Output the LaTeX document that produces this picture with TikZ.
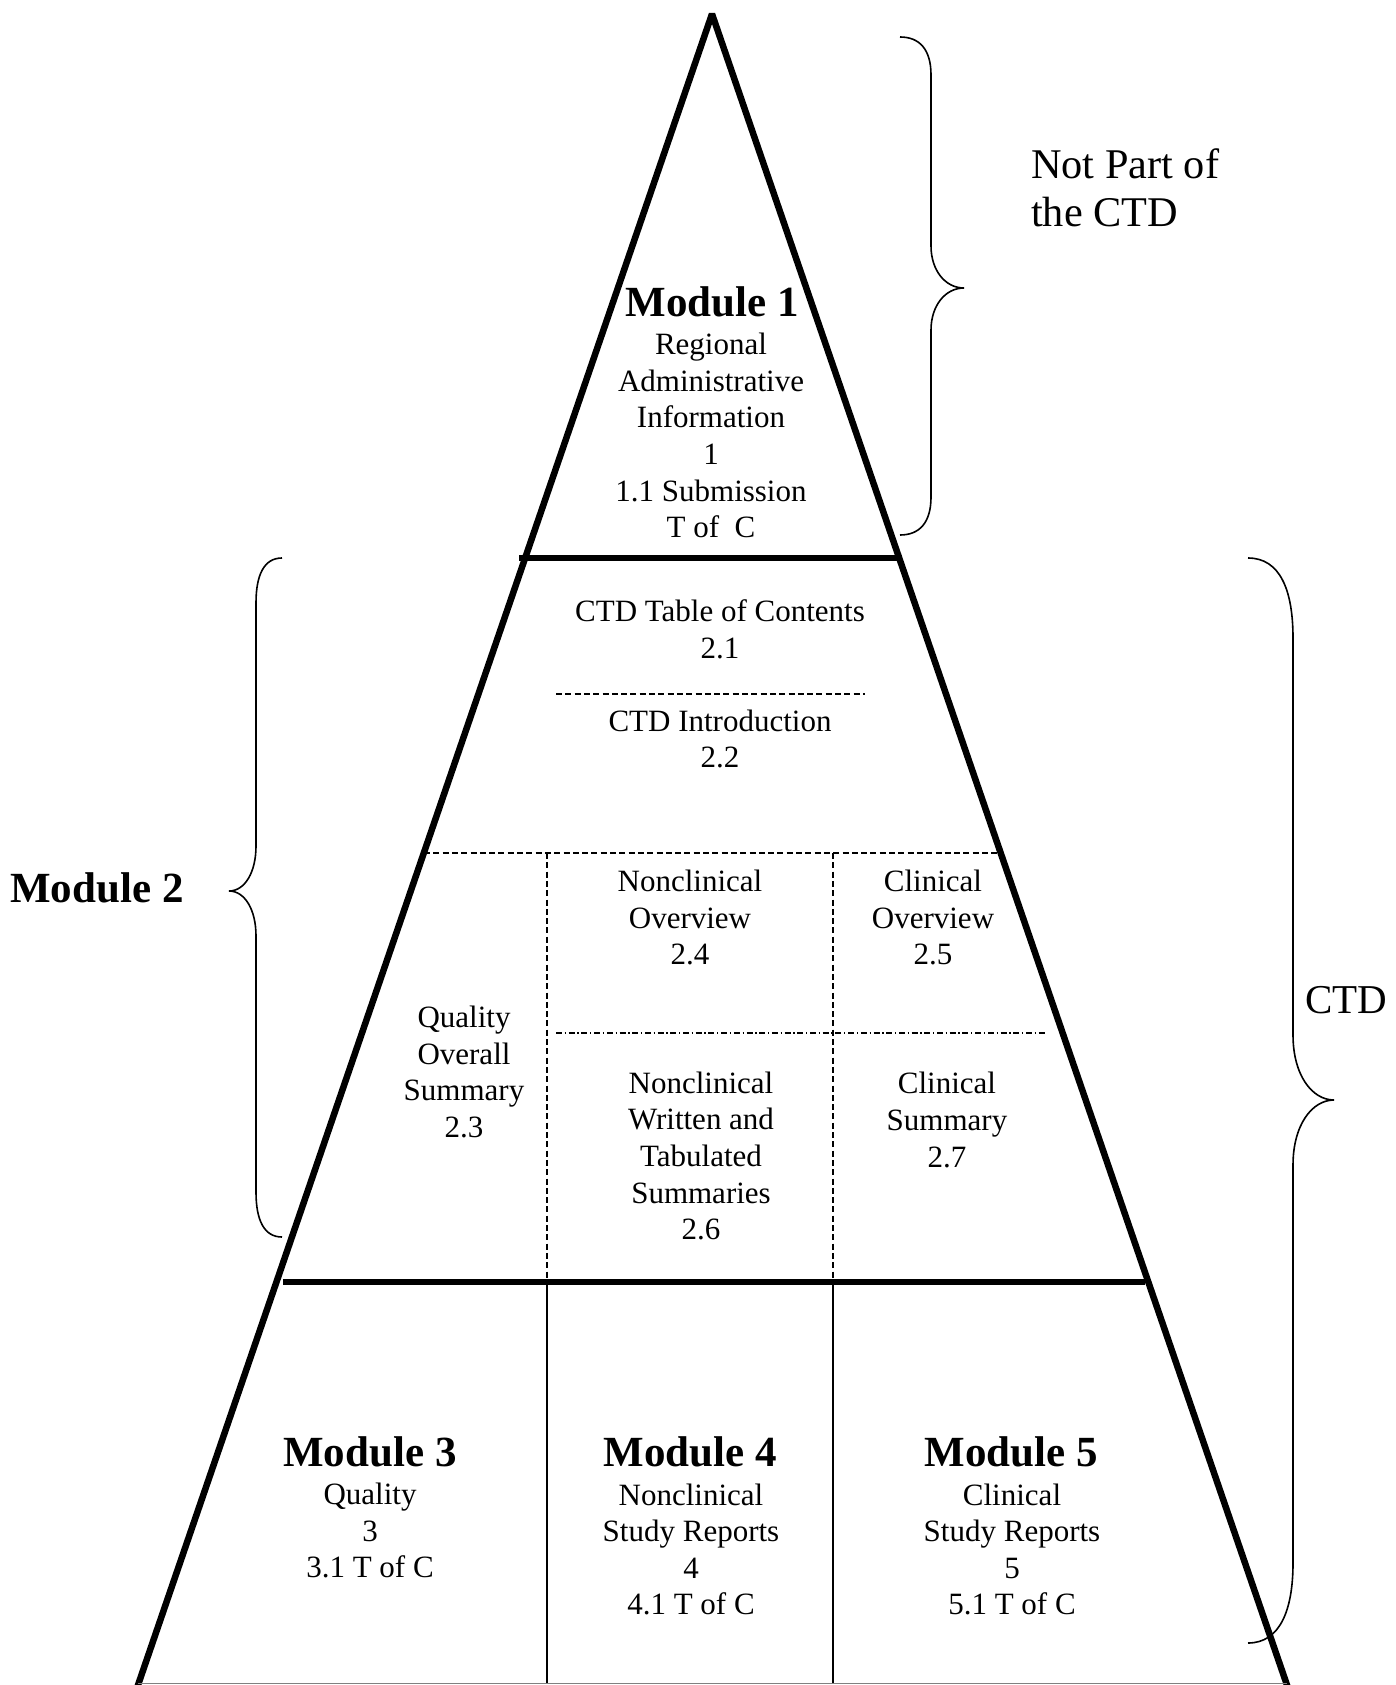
\documentclass[tikz,border=0pt]{standalone}
\usepackage{fontspec}
\setmainfont{Liberation Serif}
\begin{document}
\begin{tikzpicture}[x=1pt,y=-1pt,
  edge/.style={line width=6.5pt},
  thickrule/.style={line width=6.5pt},
  thinrule/.style={line width=1.3pt},
  dsh/.style={line width=1.3pt, dash pattern=on 6pt off 3.3pt},
  dshdot/.style={line width=1.3pt, dash pattern=on 6pt off 2.7pt on 1.3pt off 2.7pt},
  bracestyle/.style={line width=1.6pt},
  txt/.style={font=\fontsize{31}{36.6}\selectfont, align=center, inner sep=0pt},
  ttl/.style={font=\fontsize{43}{48}\selectfont\bfseries, inner sep=0pt},
  big/.style={font=\fontsize{41}{47}\selectfont, inner sep=0pt}]
\useasboundingbox (0,0) rectangle (1396,1685);
\fill[white] (0,0) rectangle (1396,1685);

% pyramid edges
\coordinate (apex) at (712,14);
\coordinate (bl) at (136.3,1690);
\coordinate (br) at (1288.7,1690);
\draw[edge, line join=bevel] (bl) -- (apex) -- (br);

% horizontal rules
\coordinate (r1a) at (519,558); \coordinate (r1b) at (902,558);
\coordinate (r2a) at (283,1282); \coordinate (r2b) at (1145,1282);
\draw[thickrule] (r1a) -- (r1b);
\draw[thickrule] (r2a) -- (r2b);
\coordinate (ga) at (138,1683.5); \coordinate (gb) at (1287,1683.5);
\draw[gray, line width=1.5pt] (ga) -- (gb);

% dashed separators
\coordinate (d1a) at (556,694); \coordinate (d1b) at (865,694);
\draw[dsh] (d1a) -- (d1b);
\coordinate (d2a) at (424,853); \coordinate (d2b) at (1000,853);
\draw[dsh] (d2a) -- (d2b);
\coordinate (v1t) at (547,853); \coordinate (v1m) at (547,1282); \coordinate (v1b) at (547,1683);
\coordinate (v2t) at (833,853); \coordinate (v2m) at (833,1282); \coordinate (v2b) at (833,1683);
\draw[dsh] (v1t) -- (v1m);
\draw[dsh] (v2t) -- (v2m);
\draw[thinrule] (v1m) -- (v1b);
\draw[thinrule] (v2m) -- (v2b);
\coordinate (d3a) at (556,1033); \coordinate (d3b) at (1045,1033);
\draw[dshdot] (d3a) -- (d3b);

% braces
\draw[bracestyle] (900,37) .. controls (920,37) and (931,50) .. (931,75) -- (931,246)
  .. controls (931,270) and (945,288) .. (964,288)
  .. controls (945,288) and (931,306) .. (931,330) -- (931,497)
  .. controls (931,522) and (920,535) .. (900,535);
\draw[bracestyle] (282,558) .. controls (264,558) and (256,575) .. (256,603) -- (256,846)
  .. controls (256,872) and (245,891) .. (229,891)
  .. controls (245,891) and (256,910) .. (256,936) -- (256,1192)
  .. controls (256,1220) and (264,1237) .. (282,1237);
\draw[bracestyle] (1248,558) .. controls (1280,558) and (1293,590) .. (1293,638) -- (1293,1035)
  .. controls (1293,1075) and (1312,1100) .. (1334,1100)
  .. controls (1312,1100) and (1293,1125) .. (1293,1165) -- (1293,1563)
  .. controls (1293,1610) and (1280,1643) .. (1248,1643);

% texts
\node[ttl] (m1title) at (712,302) {Module 1};
\node[txt] (m1body) at (711,435.5) {Regional\\Administrative\\Information\\1\\1.1 Submission\\T of~ C};
\node[txt] (toc) at (720,629.5) {CTD Table of Contents\\2.1};
\node[txt] (intro) at (720,739) {CTD Introduction\\2.2};
\node[txt] (qos) at (464,1072) {Quality\\Overall\\Summary\\2.3};
\node[txt] (nco) at (690,917.5) {Nonclinical\\Overview\\2.4};
\node[txt] (co) at (933,917.5) {Clinical\\Overview\\2.5};
\node[txt] (ncs) at (701,1156) {Nonclinical\\Written and\\Tabulated\\Summaries\\2.6};
\node[txt] (cs) at (947,1120) {Clinical\\Summary\\2.7};
\node[ttl] (m3title) at (370,1452) {Module 3};
\node[txt] (m3body) at (370,1530.5) {Quality\\3\\3.1 T of C};
\node[ttl] (m4title) at (690,1452) {Module 4};
\node[txt] (m4body) at (691,1549.5) {Nonclinical\\Study Reports\\4\\4.1 T of C};
\node[ttl] (m5title) at (1011,1452) {Module 5};
\node[txt] (m5body) at (1012,1549.5) {Clinical\\Study Reports\\5\\5.1 T of C};
\node[big, font=\fontsize{42.3}{47.5}\selectfont, align=left, anchor=west] (notpart) at (1031,188) {Not Part of\\the CTD};
\node[ttl] (m2label) at (97,888) {Module 2};
\node[big] (ctdlabel) at (1346,1000) {CTD};
\end{tikzpicture}
\end{document}
